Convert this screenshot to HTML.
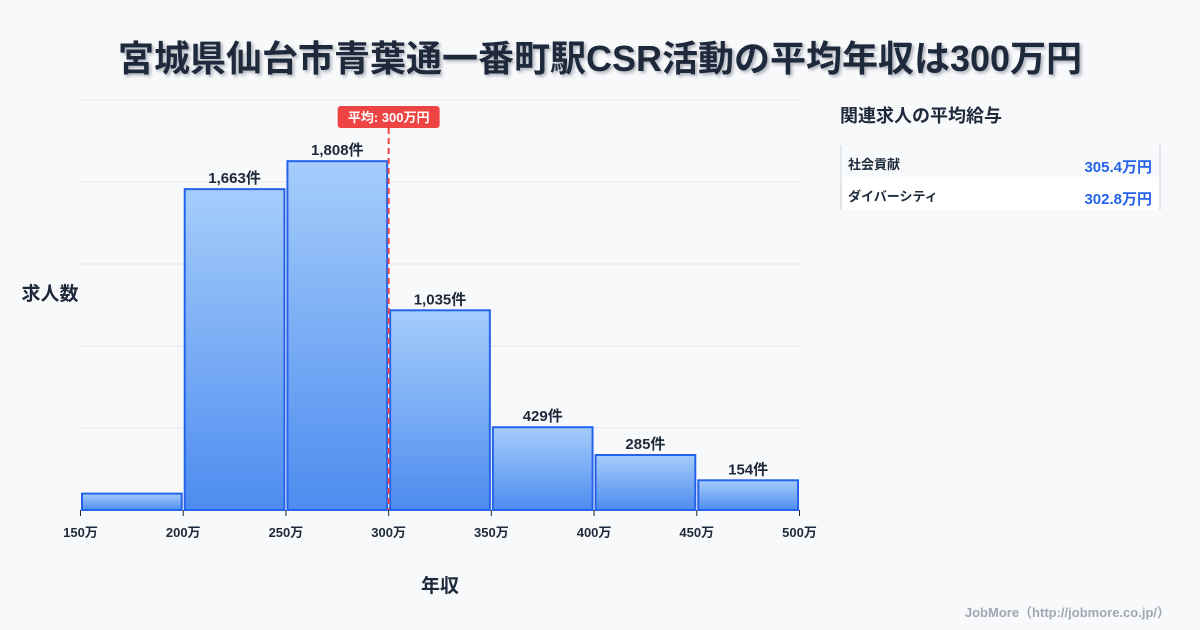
<!DOCTYPE html>
<html><head><meta charset="utf-8"><style>
body{margin:0;width:1200px;height:630px;background:#f8f9fb;font-family:"Liberation Sans","Noto Sans CJK JP",sans-serif;overflow:hidden;position:relative}
.t{position:absolute;left:0;width:1200px;text-align:center;top:30px;font-size:36px;font-weight:bold;color:#1e293b;text-shadow:2px 2px 3px rgba(30,41,59,0.35)}
</style></head><body>
<div class="t">宮城県仙台市青葉通一番町駅CSR活動の平均年収は300万円</div>
<svg width="1200" height="630" style="position:absolute;left:0;top:0">
<defs><linearGradient id="g" x1="0" y1="0" x2="0" y2="1"><stop offset="0" stop-color="#a6cdfb"/><stop offset="1" stop-color="#4d8cef"/></linearGradient></defs>
<g id="grid"></g><g id="bars"></g><g id="axis"></g>
<text x="50" y="300" font-size="19" font-weight="bold" fill="#1e293b" text-anchor="middle">求人数</text>
<text x="440" y="592" font-size="19" font-weight="bold" fill="#1e293b" text-anchor="middle">年収</text>
<g>
<text x="840" y="122" font-size="18" font-weight="bold" fill="#1e293b">関連求人の平均給与</text>
<line x1="841" y1="145" x2="841" y2="210" stroke="#cbd5e1"/><line x1="1160" y1="145" x2="1160" y2="210" stroke="#cbd5e1"/>
<rect x="842" y="177" width="317" height="33" fill="#fff"/>
<text x="848" y="169" font-size="13" font-weight="bold" fill="#1e293b">社会貢献</text>
<text x="1152" y="172" font-size="15" font-weight="bold" fill="#2563eb" text-anchor="end">305.4万円</text>
<text x="848" y="201" font-size="13" font-weight="bold" fill="#1e293b">ダイバーシティ</text>
<text x="1152" y="204" font-size="15" font-weight="bold" fill="#2563eb" text-anchor="end">302.8万円</text>
</g>
<text x="1170" y="617" font-size="13" font-weight="bold" fill="#a0a8b4" text-anchor="end">JobMore（http://jobmore.co.jp/）</text>
</svg>
<script>
const binStarts=[150,200,250,300,350,400,450];
const counts=[85,1663,1808,1035,429,285,154];
const labels=["","1,663件","1,808件","1,035件","429件","285件","154件"];
const xTicks=[150,200,250,300,350,400,450,500];
const avg=300;
const binW=50,yMax=2125,gridStep=425;
const X=v=>80.5+(v-150)*(719/350);
const Y=v=>510-v*(410/yMax);
const ns="http://www.w3.org/2000/svg";
function mk(t,a,p){const e=document.createElementNS(ns,t);for(const k in a)e.setAttribute(k,a[k]);p.appendChild(e);return e;}
const grid=document.getElementById('grid'),bars=document.getElementById('bars'),axis=document.getElementById('axis');
for(let v=gridStep;v<=yMax;v+=gridStep){const l=mk('line',{x1:80,x2:800,y1:Y(v),y2:Y(v),stroke:'#e5e7eb'},grid);

}
counts.forEach((c,i)=>{const x0=X(binStarts[i])+1.5,x1=X(binStarts[i]+binW)-1.5;
const r=mk('rect',{x:x0,y:Y(c),width:x1-x0,height:510-Y(c),fill:'url(#g)',stroke:'#2563eb','stroke-width':2},bars);


if(labels[i]){const t=mk('text',{x:(x0+x1)/2,y:Y(c)-6,'font-size':15,'font-weight':'bold',fill:'#1e293b','text-anchor':'middle'},bars);t.textContent=labels[i];

}});
xTicks.forEach(v=>{mk('line',{x1:X(v),x2:X(v),y1:510,y2:516,stroke:'#1e293b'},axis);
const t=mk('text',{x:X(v),y:537,'font-size':13,'font-weight':'bold',fill:'#1e293b','text-anchor':'middle'},axis);t.textContent=v+'万';

});
const ax=X(avg);
const al=mk('line',{x1:ax,x2:ax,y1:128,y2:510,stroke:'#ef4444','stroke-width':2,'stroke-dasharray':'6,4'},axis);


const ab=mk('rect',{x:ax-51,y:106,width:102,height:22,rx:3,fill:'#ef4444'},axis);


const at=mk('text',{x:ax,y:122,'font-size':13,'font-weight':'bold',fill:'#fff','text-anchor':'middle'},axis);at.textContent='平均: '+avg+'万円';


</script>
</body></html>
